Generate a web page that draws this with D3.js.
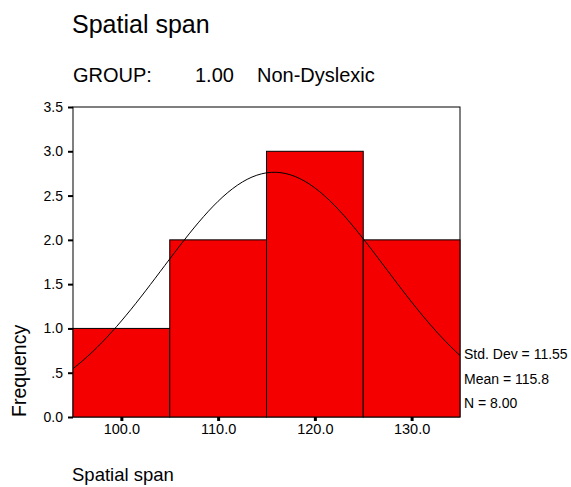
<!DOCTYPE html>
<html>
<head>
<meta charset="utf-8">
<script src="https://cdn.jsdelivr.net/npm/d3@7"></script>
<style>
  body { margin: 0; background: #fff; }
  text { font-family: "Liberation Sans", Arial, sans-serif; fill: #000; }
</style>
</head>
<body>
<div id="chart"></div>
<script>
// histogram bins (lower edge, upper edge) and counts
const binStarts = [95, 105, 115, 125];
const binEnds = [105, 115, 125, 135];
const counts = [1, 2, 3, 2];
const yTicks = [0, 0.5, 1, 1.5, 2, 2.5, 3, 3.5];
const xTicks = [100, 110, 120, 130];
// summary stats printed at right
const statLabels = ['Std. Dev = 11.55', 'Mean = 115.8', 'N = 8.00'];
const stdDev = 11.55, mean = 115.8, n = 8, binWidth = 10;

const width = 571, height = 487;
const plotL = 73, plotR = 460, plotT = 107, plotB = 417;

const svg = d3.select('#chart').append('svg')
  .attr('width', width)
  .attr('height', height);

const x = d3.scaleLinear().domain([95, 135]).range([plotL, plotR]);
const y = d3.scaleLinear().domain([0, 3.5]).range([plotB, plotT]);

// frame
svg.append('rect')
  .attr('x', plotL).attr('y', plotT)
  .attr('width', plotR - plotL).attr('height', plotB - plotT)
  .attr('fill', 'none').attr('stroke', '#000').attr('stroke-width', 1);

// bars
svg.append('g').selectAll('rect')
  .data(counts)
  .join('rect')
  .attr('x', (d, i) => x(binStarts[i]))
  .attr('y', d => y(d))
  .attr('width', (d, i) => x(binEnds[i]) - x(binStarts[i]))
  .attr('height', d => y(0) - y(d))
  .attr('fill', '#f40000')
  .attr('stroke', '#000')
  .attr('stroke-width', 1);

// fitted normal curve
const pts = d3.range(95, 135.01, 0.5);
const peak = n * binWidth / (stdDev * Math.sqrt(2 * Math.PI));
const curve = d3.line()
  .x(d => x(d))
  .y(d => y(peak * Math.exp(-0.5 * Math.pow((d - mean) / stdDev, 2))));
svg.append('path')
  .datum(pts)
  .attr('d', curve)
  .attr('fill', 'none')
  .attr('stroke', '#000')
  .attr('stroke-width', 1);

// y axis
const yAxis = svg.append('g')
  .attr('transform', `translate(${plotL},0)`)
  .call(d3.axisLeft(y).tickValues(yTicks).tickSize(5).tickPadding(5)
    .tickFormat(d => d === 0.5 ? '.5' : d3.format('.1f')(d)));
yAxis.select('.domain').remove();
yAxis.selectAll('line').attr('stroke-width', 2);
yAxis.selectAll('text').style('font-size', '14px').style('font-family', '"Liberation Sans", Arial, sans-serif');

// x axis
const xAxis = svg.append('g')
  .attr('transform', `translate(0,${plotB})`)
  .call(d3.axisBottom(x).tickValues(xTicks).tickSize(4).tickPadding(3)
    .tickFormat(d3.format('.1f')));
xAxis.select('.domain').remove();
xAxis.selectAll('line').attr('stroke-width', 3);
xAxis.selectAll('text').style('font-size', '14.5px').style('font-family', '"Liberation Sans", Arial, sans-serif');

// titles
svg.append('text').attr('x', 72).attr('y', 33).style('font-size', '25px').text('Spatial span');
svg.append('text').attr('x', 73).attr('y', 82).style('font-size', '20px').text('GROUP:');
svg.append('text').attr('x', 195).attr('y', 82).style('font-size', '20px').text('1.00');
svg.append('text').attr('x', 257).attr('y', 82).style('font-size', '20px').text('Non-Dyslexic');

svg.append('text')
  .attr('transform', `translate(26,${plotB}) rotate(-90)`)
  .style('font-size', '19.5px')
  .text('Frequency');

svg.append('text').attr('x', 72).attr('y', 481).style('font-size', '18.5px').text('Spatial span');

// stats
svg.append('g').selectAll('text')
  .data(statLabels)
  .join('text')
  .attr('x', 464)
  .attr('y', (d, i) => 359 + i * 24.5)
  .style('font-size', '14px')
  .text(d => d);
</script>
</body>
</html>
